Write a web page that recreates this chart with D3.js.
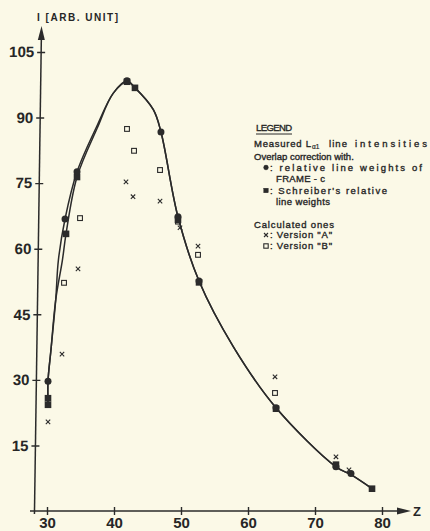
<!DOCTYPE html>
<html>
<head>
<meta charset="utf-8">
<script src="https://cdnjs.cloudflare.com/ajax/libs/d3/7.8.5/d3.min.js"></script>
<style>
  body { margin: 0; background: #fbf9e7; }
  svg { display: block; }
  text { font-family: "Liberation Sans", Arial, sans-serif; fill: #262626; }
</style>
</head>
<body>
<div id="chart"></div>
<script>
// measured L-alpha1 intensities, overlap correction with FRAME-c weights (filled circles)
var frameZ = [30.15, 32.69, 34.48, 41.94, 47.01, 49.55, 52.69, 64.18, 73.13, 75.37];
var frameI = [29.7, 66.8, 77.6, 98.4, 86.7, 67.3, 52.6, 23.6, 10.1, 8.6];
// Schreiber's relative line weights (filled squares)
var schrZ = [30.15, 30.15, 32.84, 34.48, 41.94, 43.13, 49.55, 52.69, 64.18, 73.13, 78.51];
var schrI = [25.8, 24.3, 63.4, 76.4, 98.2, 96.8, 66.6, 52.3, 23.4, 10.6, 5.1];
// calculated, version "A" (crosses)
var calcAZ = [30.15, 32.24, 34.63, 41.79, 42.84, 46.87, 49.85, 52.54, 64.03, 73.13, 75.07];
var calcAI = [20.4, 35.9, 55.4, 75.3, 71.9, 70.9, 64.8, 60.6, 30.7, 12.4, 9.4];
// calculated, version "B" (open squares)
var calcBZ = [32.54, 34.93, 41.94, 42.99, 46.87, 49.55, 52.54, 64.03];
var calcBI = [52.2, 67.0, 87.4, 82.4, 78.0, 66.2, 58.6, 27.0];

// the two hand drawn curves
var curveFZ = [30.15, 30.15, 30.6, 31.3, 31.7, 32.69, 34.48, 37.4, 39.9, 41.94, 43.13, 45.87, 47.01, 49.55, 52.69, 57.8, 64.18, 73.13, 75.37, 78.51];
var curveFI = [24.3, 29.7, 37.0, 48.3, 57.4, 66.8, 77.6, 87.9, 95.6, 98.4, 96.8, 91.8, 86.7, 67.3, 52.6, 37.6, 23.6, 10.1, 8.3, 5.1];
var curveSZ = [30.15, 30.15, 30.6, 31.3, 32.3, 32.84, 34.48, 37.5, 39.9, 41.94, 43.13, 45.87, 47.01, 49.55, 52.69, 57.8, 64.18, 73.13, 75.37, 78.51];
var curveSI = [24.3, 29.7, 37.0, 48.3, 57.4, 63.4, 76.4, 87.6, 95.6, 98.2, 96.8, 91.8, 86.7, 67.3, 52.6, 37.6, 23.6, 10.1, 8.3, 5.1];

var xTicks = [30, 40, 50, 60, 70, 80];
var yTicks = [15, 30, 45, 60, 75, 90, 105];

var width = 430,
    height = 531;
var ink = "#2b2b2b";

var svg = d3.select("#chart").append("svg")
    .attr("width", width)
    .attr("height", height);

svg.append("rect").attr("width", width).attr("height", height).attr("fill", "#fbf9e7");

var x = d3.scaleLinear().domain([30, 80]).range([47, 382]);
var y = d3.scaleLinear().domain([0, 105]).range([511, 52]);

function pairs(zs, is) {
    return zs.map(function(z, i) { return [z, is[i]]; });
}

// x axis
var xAxis = svg.append("g")
    .attr("transform", "translate(0," + y(0) + ")")
    .call(d3.axisBottom(x).tickValues(xTicks).tickSize(4).tickPadding(2));
xAxis.select(".domain").remove();
xAxis.selectAll(".tick line").attr("y1", -4).attr("stroke", ink).attr("stroke-width", 1.4);
xAxis.selectAll(".tick text")
    .attr("font-size", 15).attr("font-weight", "bold")
    .attr("font-family", "Liberation Sans, Arial, sans-serif").attr("fill", ink);
xAxis.append("line").attr("x1", 30).attr("x2", 402).attr("stroke", ink).attr("stroke-width", 1.5);
xAxis.append("path").attr("d", "M411,0 L397,-3.5 L397,3.5 Z").attr("fill", ink);
svg.append("text").attr("x", 413).attr("y", 516)
    .attr("font-size", 13).attr("font-weight", "bold").text("Z");

// y axis (slightly leaning, as drawn)
var yAxis = svg.append("g")
    .attr("transform", "translate(41.9,0) skewX(-0.83)")
    .call(d3.axisLeft(y).tickValues(yTicks).tickSize(4).tickPadding(3));
yAxis.select(".domain").remove();
yAxis.selectAll(".tick line").attr("x1", 4).attr("stroke", ink).attr("stroke-width", 1.4);
yAxis.selectAll(".tick text")
    .attr("font-size", 15).attr("font-weight", "bold")
    .attr("font-family", "Liberation Sans, Arial, sans-serif").attr("fill", ink);
yAxis.append("line").attr("y1", 36).attr("y2", y(0) + 3).attr("stroke", ink).attr("stroke-width", 1.5);
yAxis.append("path").attr("d", "M0,26 L-3.5,40 L3.5,40 Z").attr("fill", ink);

svg.append("text").attr("x", 37).attr("y", 21)
    .attr("font-size", 10).attr("font-weight", "bold")
    .attr("textLength", 81).attr("lengthAdjust", "spacing")
    .text("I [ARB. UNIT]");

// curves
var line = d3.line()
    .x(function(d) { return x(d[0]); })
    .y(function(d) { return y(d[1]); })
    .curve(d3.curveCatmullRom.alpha(0.5));

[pairs(curveFZ, curveFI), pairs(curveSZ, curveSI)].forEach(function(c) {
    svg.append("path").attr("d", line(c))
        .attr("fill", "none").attr("stroke", ink).attr("stroke-width", 1.5);
});

// markers
function cross(g, cx, cy, s) {
    g.append("path")
        .attr("d", "M" + (cx - s) + "," + (cy - s) + "L" + (cx + s) + "," + (cy + s) +
                   "M" + (cx - s) + "," + (cy + s) + "L" + (cx + s) + "," + (cy - s))
        .attr("stroke", ink).attr("stroke-width", 1.1);
}
function openSquare(g, cx, cy, s) {
    g.append("rect").attr("x", cx - s).attr("y", cy - s).attr("width", 2 * s).attr("height", 2 * s)
        .attr("fill", "none").attr("stroke", ink).attr("stroke-width", 1.1);
}
function fillSquare(g, cx, cy, s) {
    g.append("rect").attr("x", cx - s).attr("y", cy - s).attr("width", 2 * s).attr("height", 2 * s)
        .attr("fill", ink);
}
function dot(g, cx, cy, r) {
    g.append("circle").attr("cx", cx).attr("cy", cy).attr("r", r).attr("fill", ink);
}

var marks = svg.append("g");
pairs(calcAZ, calcAI).forEach(function(d) { cross(marks, x(d[0]), y(d[1]), 2.2); });
pairs(calcBZ, calcBI).forEach(function(d) { openSquare(marks, x(d[0]), y(d[1]), 2.4); });
pairs(schrZ, schrI).forEach(function(d) { fillSquare(marks, x(d[0]), y(d[1]), 3.3); });
pairs(frameZ, frameI).forEach(function(d) { dot(marks, x(d[0]), y(d[1]), 3.5); });

// legend: regular face with a thin outline, words spread out like the typed original
var lg = svg.append("g").attr("font-size", 9.5)
    .attr("stroke", "#262626").attr("stroke-width", 0.35);
function ltext(tx, ty, str, len) {
    var t = lg.append("text").attr("x", tx).attr("y", ty).text(str);
    if (len) t.attr("textLength", len).attr("lengthAdjust", "spacing");
    return t;
}
ltext(256, 131, "LEGEND", 36);
lg.append("line").attr("x1", 256).attr("x2", 292).attr("y1", 134).attr("y2", 134)
    .attr("stroke", ink).attr("stroke-width", 1);

ltext(254, 146.5, "Measured L", 57);
lg.append("text").attr("x", 312).attr("y", 149).attr("font-size", 6.5)
    .attr("stroke-width", 0.2).text("\u03b11");
ltext(329, 146.5, "line", 18);
ltext(355, 146.5, "intensities", 72);

ltext(254, 160, "Overlap correction with.");
dot(lg, 266, 167.5, 2.4);
ltext(270, 171, ": relative line weights of", 152);
ltext(276, 182, "FRAME - c", 49);
fillSquare(lg, 266, 190.5, 2.3);
ltext(270, 194, ": Schreiber's relative", 117);
ltext(276, 205, "line weights", 54);

ltext(254, 228, "Calculated ones", 80);
cross(lg, 266, 235, 2);
ltext(270, 238, ": Version \"A\"", 62);
openSquare(lg, 266, 246, 2.2);
ltext(270, 249, ": Version \"B\"", 62);
</script>
</body>
</html>
